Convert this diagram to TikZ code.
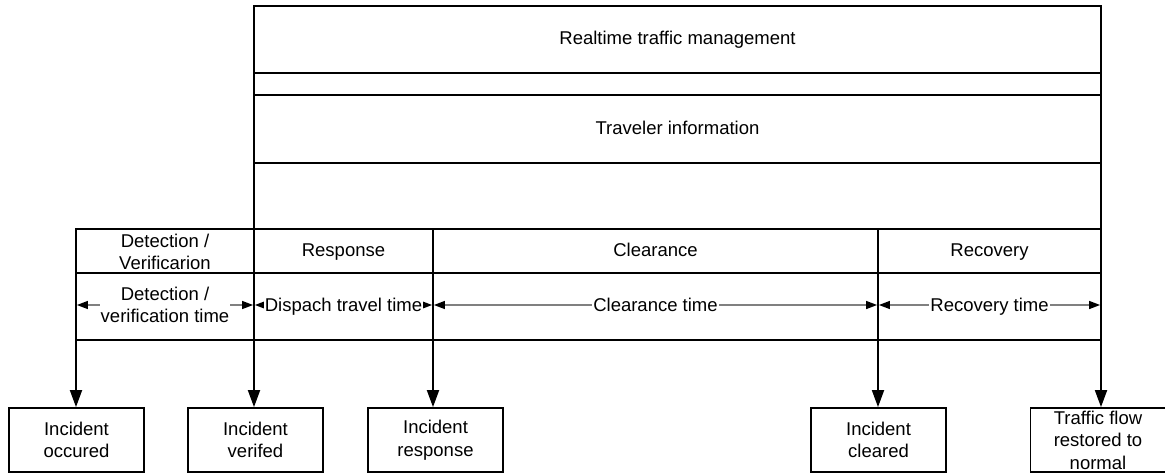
\documentclass[tikz,border=0pt]{standalone}
\usepackage{fontspec}
\setmainfont{Liberation Sans}
\usetikzlibrary{arrows.meta}

\begin{document}
\begin{tikzpicture}[x=1pt,y=-1pt,
  frame/.style={draw=black,line width=1.8pt},
  txt/.style={font=\fontsize{18.5}{22.5}\selectfont, inner sep=0pt},
  lbl/.style={txt, text height=13.5pt, text depth=3.9pt},
  mlbl/.style={txt, align=center},
  span/.style={draw=black!50, line width=1.3pt, shorten <=0.9pt, shorten >=0.9pt,
    {Triangle[length=11pt,width=8pt,color=black]}-{Triangle[length=11pt,width=8pt,color=black]}},
  cut/.style={fill=white, inner xsep=1pt},
  event/.style={draw=black, line width=1.8pt, minimum width=135pt, minimum height=64pt,
    mlbl},
  down/.style={draw=black, line width=1.8pt, -{Triangle[length=17pt,width=12pt]}}]
\useasboundingbox (0,0) rectangle (1165,474);

% upper bands
\draw[frame] (254,6) rectangle (1101,229);
\draw[frame] (254,73) -- (1101,73);
\draw[frame] (254,95) -- (1101,95);
\draw[frame] (254,163) -- (1101,163);
\node[lbl] (rtm) at (677.5,39.5) {Realtime traffic management};
\node[lbl] (trav) at (677.5,130) {Traveler information};

% phase table
\draw[frame] (76,229) rectangle (1101,340);
\draw[frame] (76,273) -- (1101,273);
\foreach \x in {254,433,878} \draw[frame] (\x,229) -- (\x,340);

\node[mlbl] (pdet) at (165,252) {Detection /\\Verificarion};
\node[lbl] (presp) at (343.5,252) {Response};
\node[lbl] (pclr) at (655.5,252) {Clearance};
\node[lbl] (prec) at (989.5,252) {Recovery};

% duration spans
\coordinate (s0) at (76,305);
\coordinate (s1) at (254,305);
\coordinate (s2) at (433,305);
\coordinate (s3) at (878,305);
\coordinate (s4) at (1101,305);
\draw[span] (s0) -- (s1);
\draw[span] (s1) -- (s2);
\draw[span] (s2) -- (s3);
\draw[span] (s3) -- (s4);
\node[mlbl, cut] (tdet) at (165,305) {Detection /\\verification time};
\node[lbl, cut] (tresp) at (343.5,307) {Dispach travel time};
\node[lbl, cut] (tclr) at (655.5,307) {Clearance time};
\node[lbl, cut] (trec) at (989.5,307) {Recovery time};

% milestones
\node[event] (e1) at (76.5,440) {Incident\\occured};
\node[event] (e2) at (255.5,440) {Incident\\verifed};
\node[event] (e3) at (435.5,440) {Incident\\response};
\node[event] (e4) at (878.5,440) {Incident\\cleared};
\node[event] (e5) at (1098,440) {Traffic flow\\restored to\\normal};

\coordinate (b1) at (76,340);
\coordinate (b2) at (254,340);
\coordinate (b3) at (433,340);
\coordinate (b4) at (878,340);
\coordinate (b5) at (1101,340);
\foreach \i in {1,...,5} \draw[down] (b\i) -- (b\i |- e\i.north);
\end{tikzpicture}
\end{document}
